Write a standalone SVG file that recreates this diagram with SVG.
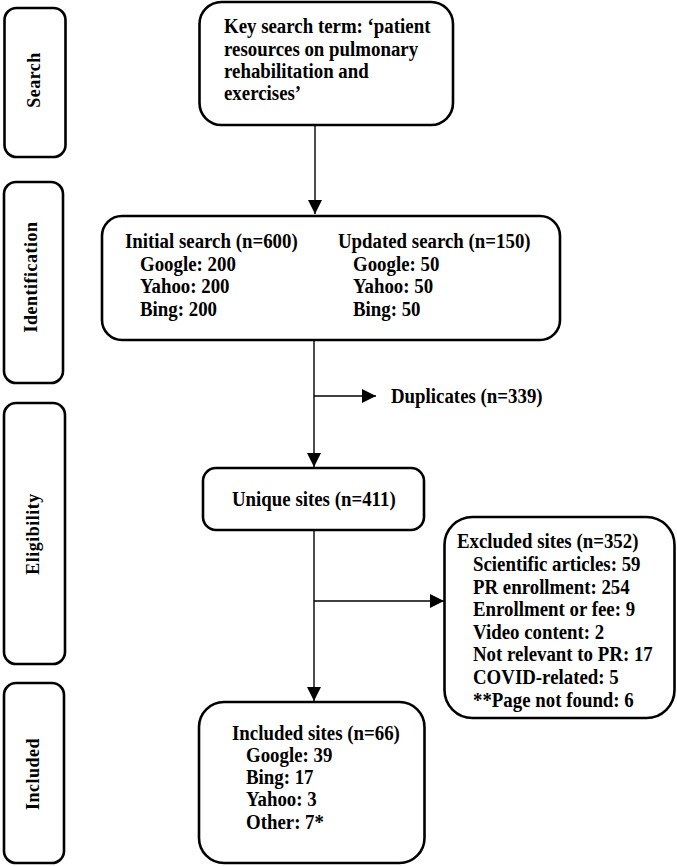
<svg xmlns="http://www.w3.org/2000/svg" width="677" height="866" viewBox="0 0 677 866">
<style>
.box{fill:#fff;stroke:#000;stroke-width:2.6}
.lab{font-family:"Liberation Serif","Times New Roman",serif;font-weight:bold;font-size:18px;fill:#000;text-anchor:middle;letter-spacing:0.5px}
.t{font-family:"Liberation Serif","Times New Roman",serif;font-weight:bold;font-size:20.5px;fill:#000}
.ln{fill:none;stroke:#000;stroke-width:1.4}
</style>
<defs>
<marker id="ah" markerUnits="userSpaceOnUse" markerWidth="14" markerHeight="14" viewBox="0 0 12 12" refX="12" refY="6" orient="auto">
<path d="M0,0 L12,6 L0,12 Z" fill="#000"/>
</marker>
</defs>
<rect width="677" height="866" fill="#fff"/>

<g id="stage-search"><rect class="box" x="4.5" y="8" width="61" height="149" rx="12"/><text class="lab" transform="translate(40,80) rotate(-90)">Search</text></g>
<g id="stage-identification"><rect class="box" x="4" y="182" width="59" height="201" rx="12"/><text class="lab" transform="translate(37,277) rotate(-90)">Identification</text></g>
<g id="stage-eligibility"><rect class="box" x="4" y="403" width="61" height="261" rx="12"/><text class="lab" transform="translate(39,534) rotate(-90)">Eligibility</text></g>
<g id="stage-included"><rect class="box" x="4" y="683" width="60" height="180" rx="12"/><text class="lab" transform="translate(39,774) rotate(-90)">Included</text></g>

<g id="connectors">
<line class="ln" x1="315" y1="125" x2="315" y2="214" marker-end="url(#ah)"/>
<line class="ln" x1="314" y1="340" x2="314" y2="467" marker-end="url(#ah)"/>
<line class="ln" x1="314" y1="396" x2="376" y2="396" marker-end="url(#ah)"/>
<line class="ln" x1="314" y1="530" x2="314" y2="701" marker-end="url(#ah)"/>
<line class="ln" x1="314" y1="601" x2="444" y2="601" marker-end="url(#ah)"/>
</g>

<g id="node-key">
<rect class="box" x="199.5" y="2" width="253.5" height="123" rx="22"/>
<g transform="translate(224,0) scale(0.92,1)">
<text class="t" x="0" y="33">Key search term: ‘patient</text>
<text class="t" x="0" y="56">resources on pulmonary</text>
<text class="t" x="0" y="78">rehabilitation and</text>
<text class="t" x="0" y="100">exercises’</text>
</g>
</g>

<g id="node-identification">
<rect class="box" x="102" y="216" width="458" height="124" rx="20"/>
<g transform="translate(125,0) scale(0.92,1)">
<text class="t" x="0" y="248">Initial search (n=600)</text>
<text class="t" x="16.3" y="271">Google: 200</text>
<text class="t" x="16.3" y="293.5">Yahoo: 200</text>
<text class="t" x="16.3" y="316">Bing: 200</text>
<text class="t" x="231.5" y="248">Updated search (n=150)</text>
<text class="t" x="247.8" y="271">Google: 50</text>
<text class="t" x="247.8" y="293.5">Yahoo: 50</text>
<text class="t" x="247.8" y="316">Bing: 50</text>
</g>
</g>

<g id="node-duplicates">
<g transform="translate(391,0) scale(0.92,1)"><text class="t" x="0" y="403">Duplicates (n=339)</text></g>
</g>

<g id="node-unique">
<rect class="box" x="203" y="468" width="221" height="62" rx="13"/>
<g transform="translate(232,0) scale(0.92,1)"><text class="t" x="0" y="506">Unique sites (n=411)</text></g>
</g>

<g id="node-excluded">
<rect class="box" x="444.5" y="517" width="230" height="201" rx="28"/>
<g transform="translate(457,0) scale(0.92,1)">
<text class="t" x="0" y="548">Excluded sites (n=352)</text>
<text class="t" x="17.4" y="571">Scientific articles: 59</text>
<text class="t" x="17.4" y="594">PR enrollment: 254</text>
<text class="t" x="17.4" y="616.5">Enrollment or fee: 9</text>
<text class="t" x="17.4" y="639">Video content: 2</text>
<text class="t" x="17.4" y="661.5">Not relevant to PR: 17</text>
<text class="t" x="17.4" y="684.5">COVID-related: 5</text>
<text class="t" x="17.4" y="707.5">**Page not found: 6</text>
</g>
</g>

<g id="node-included">
<rect class="box" x="199" y="702" width="225.5" height="161" rx="25"/>
<g transform="translate(232,0) scale(0.92,1)">
<text class="t" x="0" y="740.5">Included sites (n=66)</text>
<text class="t" x="15.2" y="762">Google: 39</text>
<text class="t" x="15.2" y="784">Bing: 17</text>
<text class="t" x="15.2" y="806.5">Yahoo: 3</text>
<text class="t" x="15.2" y="829">Other: 7*</text>
</g>
</g>
</svg>
